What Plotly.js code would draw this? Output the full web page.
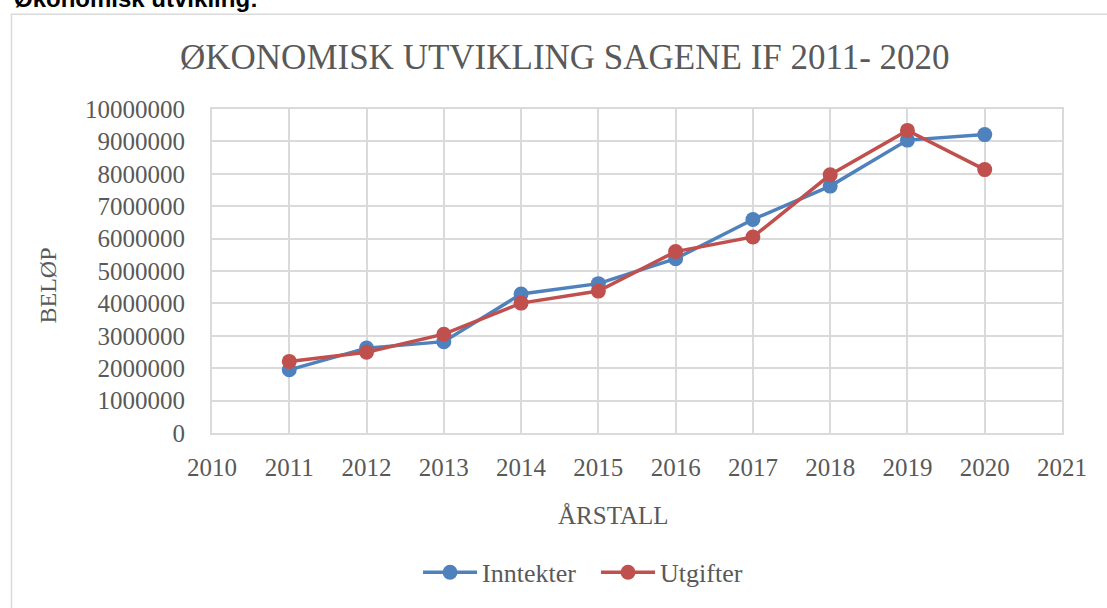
<!DOCTYPE html>
<html>
<head>
<meta charset="utf-8">
<script src="https://cdn.plot.ly/plotly-3.0.1.min.js"></script>
<style>html,body{margin:0;padding:0;background:#fff;}#chart{width:1107px;height:608px;}</style>
</head>
<body>
<div id="chart"></div>
<script>
const years = [2011, 2012, 2013, 2014, 2015, 2016, 2017, 2018, 2019, 2020];
const inntekter = [1950000, 2620000, 2820000, 4290000, 4610000, 5380000, 6590000, 7620000, 9040000, 9210000];
const utgifter = [2210000, 2490000, 3050000, 4010000, 4380000, 5600000, 6050000, 7970000, 9340000, 8130000];
const xTicks = [2010, 2011, 2012, 2013, 2014, 2015, 2016, 2017, 2018, 2019, 2020, 2021];
const yTicks = [0, 1000000, 2000000, 3000000, 4000000, 5000000, 6000000, 7000000, 8000000, 9000000, 10000000];

const serif = 'Liberation Serif, DejaVu Serif, serif';
const txt = '#595959';
const grid = '#dadada';

const traces = [
  {x: years, y: inntekter, name: 'Inntekter', type: 'scatter', mode: 'lines+markers',
   line: {color: '#4f81bd', width: 3.5}, marker: {color: '#4f81bd', size: 15}},
  {x: years, y: utgifter, name: 'Utgifter', type: 'scatter', mode: 'lines+markers',
   line: {color: '#c0504d', width: 3.5}, marker: {color: '#c0504d', size: 15}}
];

const layout = {
  width: 1107, height: 608,
  margin: {l: 212, r: 45, t: 109, b: 169},
  paper_bgcolor: '#fff', plot_bgcolor: '#fff',
  font: {family: serif, color: txt},
  showlegend: true,
  legend: {orientation: 'h', x: 0.2424, xanchor: 'left', y: -0.430, yanchor: 'middle',
           font: {family: serif, size: 26, color: txt}, itemwidth: 54,
           entrywidth: 109, entrywidthmode: 'pixels', traceorder: 'normal'},
  xaxis: {range: [2010, 2021], tickvals: xTicks, ticktext: xTicks.map(String),
          showgrid: true, gridcolor: grid, gridwidth: 2, zeroline: false,
          showline: true, linecolor: grid, linewidth: 2, mirror: true,
          ticks: '', ticklabelstandoff: 11,
          tickfont: {family: serif, size: 25, color: txt}, fixedrange: true},
  yaxis: {range: [0, 10000000], tickvals: yTicks, ticktext: yTicks.map(String),
          showgrid: true, gridcolor: grid, gridwidth: 2, zeroline: false,
          showline: true, linecolor: grid, linewidth: 2, mirror: true,
          ticks: '', ticklabelstandoff: 20,
          tickfont: {family: serif, size: 25, color: txt}, fixedrange: true},
  shapes: [
    {type: 'rect', xref: 'paper', yref: 'paper', x0: -0.2359, x1: 1.3, y0: -1.0, y1: 1.2925,
     line: {color: grid, width: 1.5}, fillcolor: 'rgba(0,0,0,0)', layer: 'below'}
  ],
  annotations: [
    {text: 'ØKONOMISK UTVIKLING SAGENE IF 2011- 2020', xref: 'paper', yref: 'paper',
     x: 0.4155, y: 1.158, xanchor: 'center', yanchor: 'middle', showarrow: false,
     font: {family: serif, size: 35, color: txt}},
    {text: 'BELØP', xref: 'paper', yref: 'paper', x: -0.193, y: 0.455, textangle: -90,
     xanchor: 'center', yanchor: 'middle', showarrow: false,
     font: {family: serif, size: 24, color: txt}},
    {text: 'ÅRSTALL', xref: 'paper', yref: 'paper', x: 0.472, y: -0.254,
     xanchor: 'center', yanchor: 'middle', showarrow: false,
     font: {family: serif, size: 25, color: txt}},
    {text: '<b>Økonomisk utvikling:</b>', xref: 'paper', yref: 'paper', x: -0.2356, y: 1.3406,
     xanchor: 'left', yanchor: 'middle', showarrow: false,
     font: {family: 'Liberation Sans, Arial, sans-serif', size: 24, color: '#000'}}
  ]
};

Plotly.newPlot('chart', traces, layout, {displayModeBar: false, staticPlot: true});
</script>
</body>
</html>
